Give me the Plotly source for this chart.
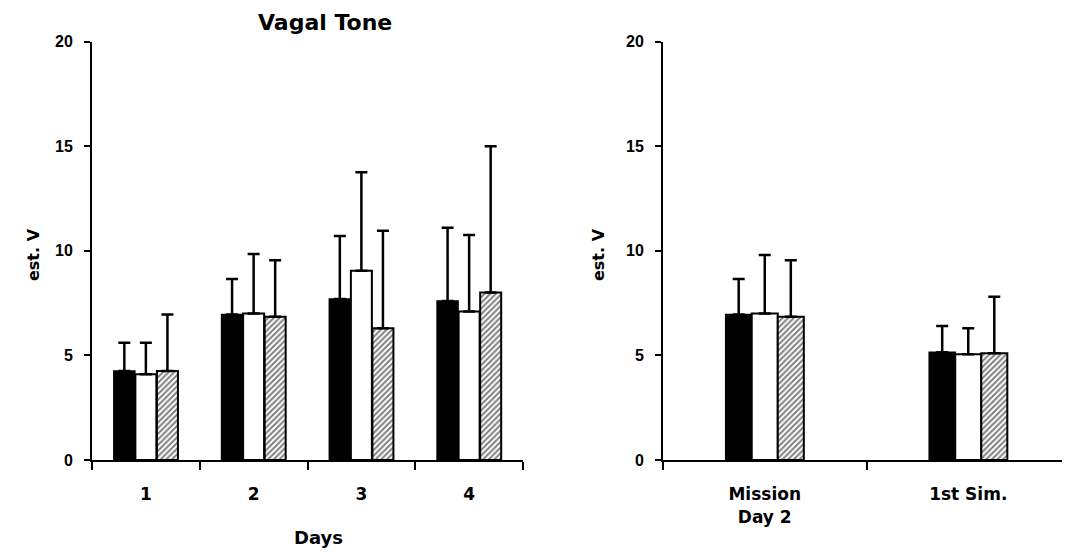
import plotly.graph_objects as go

# ---- data ----
days = ["1", "2", "3", "4"]
left_black = [4.25, 6.95, 7.7, 7.6]
left_black_sd = [1.35, 1.7, 3.0, 3.5]
left_white = [4.1, 7.0, 9.05, 7.1]
left_white_sd = [1.5, 2.85, 4.7, 3.65]
left_hatch = [4.25, 6.85, 6.3, 8.0]
left_hatch_sd = [2.7, 2.7, 4.65, 7.0]

conds = ["Mission<br>Day 2", "1st Sim."]
right_black = [6.95, 5.15]
right_black_sd = [1.7, 1.25]
right_white = [7.0, 5.05]
right_white_sd = [2.8, 1.25]
right_hatch = [6.85, 5.1]
right_hatch_sd = [2.7, 2.7]

W, H = 1070, 552
OFF = 8  # page body margin of the html page


def px(x):
    return (x - OFF) / W


def py(y):
    return (H - (y - OFF)) / H


fig = go.Figure()


def add_bars(x, ys, sds, xa, ya, width, offsets):
    styles = [
        dict(color="black", line=dict(color="black", width=1.5)),
        dict(color="white", line=dict(color="black", width=2)),
        dict(color="white", line=dict(color="black", width=2),
             pattern=dict(shape="/", fgcolor="black", bgcolor="white", size=4, solidity=0.5)),
    ]
    for y, sd, st, off in zip(ys, sds, styles, offsets):
        fig.add_trace(go.Bar(
            x=x, y=y, width=width, offset=off, marker=st, xaxis=xa, yaxis=ya,
            showlegend=False,
            error_y=dict(type="data", symmetric=False, array=sd, arrayminus=[0] * len(sd),
                         color="black", thickness=2.5, width=6),
        ))


bw_l = 0.195
add_bars(days, [left_black, left_white, left_hatch],
         [left_black_sd, left_white_sd, left_hatch_sd], "x", "y", bw_l,
         [-1.5 * bw_l - 0.005, -0.5 * bw_l, 0.5 * bw_l + 0.005])
bw_r = 0.128
add_bars(conds, [right_black, right_white, right_hatch],
         [right_black_sd, right_white_sd, right_hatch_sd], "x2", "y2", bw_r,
         [-1.5 * bw_r, -0.5 * bw_r, 0.5 * bw_r])

y0 = py(460)
y1 = py(41.5)
tickfont = dict(family="Liberation Sans", size=16, color="black", weight="bold")
common_y = dict(range=[0, 20], tickvals=[0, 5, 10, 15, 20], showline=True, linecolor="black",
                linewidth=2, ticks="outside", ticklen=6, tickwidth=1.5, tickcolor="black",
                showgrid=False, zeroline=False, tickfont=tickfont, ticklabelstandoff=8,
                automargin=False)
common_x = dict(type="category", tickson="boundaries", showline=True, linecolor="black",
                linewidth=2, ticks="outside", ticklen=8, tickwidth=1.5, tickcolor="black",
                showgrid=False, zeroline=False,
                tickfont=dict(family="DejaVu Sans", size=17, color="black", weight="bold"),
                ticklabelstandoff=18, automargin=False)

fig.update_layout(
    width=W, height=H, margin=dict(l=0, r=0, t=0, b=0, autoexpand=False),
    paper_bgcolor="white", plot_bgcolor="white", barmode="group",
    xaxis=dict(domain=[px(92), px(523)], range=[-0.5, 3.5], categoryarray=days, **common_x),
    yaxis=dict(domain=[y0, y1], anchor="x", **common_y),
    xaxis2=dict(domain=[px(663), px(1070)], range=[-0.5, 1.5], anchor="y2", categoryarray=conds,
                **common_x),
    yaxis2=dict(domain=[y0, y1], anchor="x2", **common_y),
)

bold = dict(family="DejaVu Sans", color="black", weight="bold")
fig.add_annotation(text="Vagal Tone", x=px(325), y=py(22), xref="paper", yref="paper",
                   xanchor="center", yanchor="middle",
                   showarrow=False, font=dict(size=22, **bold))
fig.add_annotation(text="Days", x=px(318), y=py(537), xref="paper", yref="paper",
                   xanchor="center", yanchor="middle",
                   showarrow=False, font=dict(size=18, **bold))
for xp in (33, 598):
    fig.add_annotation(text="est. V", x=px(xp), y=py(255), xref="paper", yref="paper",
                       xanchor="center", yanchor="middle",
                       showarrow=False, textangle=-90, font=dict(size=16, **bold))

fig.write_html("out.html")
